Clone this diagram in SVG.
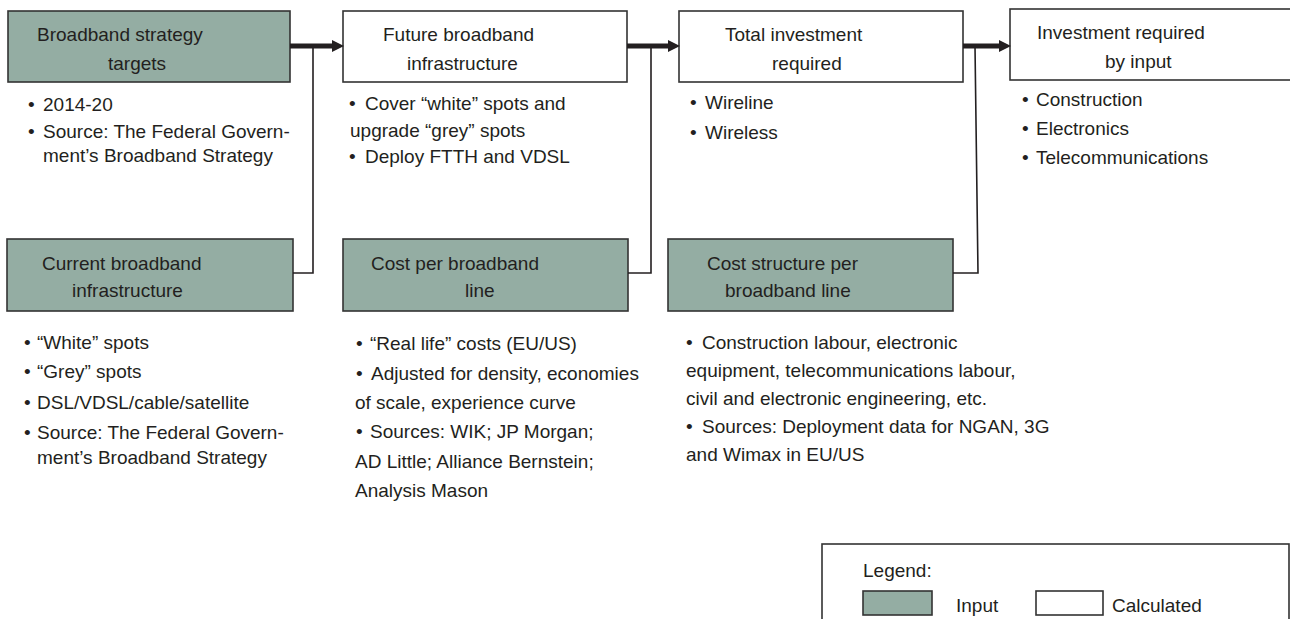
<svg xmlns="http://www.w3.org/2000/svg" width="1290" height="619" viewBox="0 0 1290 619">
<style>
text{font-family:"Liberation Sans",Arial,sans-serif;font-size:19px;fill:#231f20}
.in{fill:#94ada3;stroke:#333;stroke-width:1.6}
.calc{fill:#fff;stroke:#333;stroke-width:1.6}
.thin{fill:none;stroke:#231f20;stroke-width:1.6}
.thick{fill:none;stroke:#231f20;stroke-width:5}
</style>
<defs>
<marker id="ah" markerUnits="userSpaceOnUse" viewBox="0 0 12 12" refX="0" refY="6" markerWidth="12" markerHeight="12" orient="auto">
<path d="M0,0 L12,6 L0,12 z" fill="#231f20"/>
</marker>
</defs>
<rect width="1290" height="619" fill="#fff"/>

<g id="n-strategy">
<rect class="in" x="8" y="11" width="282" height="71"/>
<text x="37" y="41">Broadband strategy</text>
<text x="108" y="70">targets</text>
<text y="111"><tspan x="28">•</tspan><tspan x="43">2014-20</tspan></text>
<text y="138"><tspan x="28">•</tspan><tspan x="43">Source: The Federal Govern-</tspan></text>
<text x="43" y="162">ment’s Broadband Strategy</text>
</g>

<g id="n-future">
<rect class="calc" x="343" y="11" width="284" height="71"/>
<text x="383" y="41">Future broadband</text>
<text x="407" y="70">infrastructure</text>
<text y="110"><tspan x="349">•</tspan><tspan x="365">Cover “white” spots and</tspan></text>
<text x="350" y="137">upgrade “grey” spots</text>
<text y="163"><tspan x="349">•</tspan><tspan x="365">Deploy FTTH and VDSL</tspan></text>
</g>

<g id="n-total">
<rect class="calc" x="679" y="11" width="284" height="71"/>
<text x="725" y="41">Total investment</text>
<text x="772" y="70">required</text>
<text y="109"><tspan x="690">•</tspan><tspan x="705">Wireline</tspan></text>
<text y="139"><tspan x="690">•</tspan><tspan x="705">Wireless</tspan></text>
</g>

<g id="n-byinput">
<rect class="calc" x="1010" y="9" width="290" height="71"/>
<text x="1037" y="39">Investment required</text>
<text x="1105" y="68">by input</text>
<text y="106"><tspan x="1022">•</tspan><tspan x="1036">Construction</tspan></text>
<text y="135"><tspan x="1022">•</tspan><tspan x="1036">Electronics</tspan></text>
<text y="164"><tspan x="1022">•</tspan><tspan x="1036">Telecommunications</tspan></text>
</g>

<g id="n-current">
<rect class="in" x="7" y="239" width="286" height="72"/>
<text x="42" y="270">Current broadband</text>
<text x="72" y="297">infrastructure</text>
<text y="349"><tspan x="24">•</tspan><tspan x="37">“White” spots</tspan></text>
<text y="378"><tspan x="24">•</tspan><tspan x="37">“Grey” spots</tspan></text>
<text y="409"><tspan x="24">•</tspan><tspan x="37">DSL/VDSL/cable/satellite</tspan></text>
<text y="439"><tspan x="24">•</tspan><tspan x="37">Source: The Federal Govern-</tspan></text>
<text x="37" y="464">ment’s Broadband Strategy</text>
</g>

<g id="n-costline">
<rect class="in" x="343" y="239" width="285" height="72"/>
<text x="371" y="270">Cost per broadband</text>
<text x="465" y="297">line</text>
<text y="350"><tspan x="356">•</tspan><tspan x="370">“Real life” costs (EU/US)</tspan></text>
<text y="380"><tspan x="356">•</tspan><tspan x="371">Adjusted for density, economies</tspan></text>
<text x="355" y="409">of scale, experience curve</text>
<text y="438"><tspan x="356">•</tspan><tspan x="370">Sources: WIK; JP Morgan;</tspan></text>
<text x="355" y="468">AD Little; Alliance Bernstein;</text>
<text x="355" y="497">Analysis Mason</text>
</g>

<g id="n-coststructure">
<rect class="in" x="668" y="239" width="285" height="72"/>
<text x="707" y="270">Cost structure per</text>
<text x="725" y="297">broadband line</text>
<text y="349"><tspan x="686">•</tspan><tspan x="702">Construction labour, electronic</tspan></text>
<text x="686" y="377">equipment, telecommunications labour,</text>
<text x="686" y="405">civil and electronic engineering, etc.</text>
<text y="433"><tspan x="686">•</tspan><tspan x="702">Sources: Deployment data for NGAN, 3G</tspan></text>
<text x="686" y="461">and Wimax in EU/US</text>
</g>

<g id="legend">
<rect x="822" y="544" width="467" height="90" fill="#fff" stroke="#333" stroke-width="1.6"/>
<text x="863" y="577">Legend:</text>
<rect class="in" x="863" y="591" width="69" height="24"/>
<text x="956" y="612">Input</text>
<rect class="calc" x="1036" y="591" width="67" height="24"/>
<text x="1112" y="612">Calculated</text>
</g>

<g id="connectors">
<path class="thin" d="M293,273 H313 V46"/>
<path class="thin" d="M628,273 H651 V46"/>
<path class="thin" d="M953,273 H978 L975,46"/>
<path class="thick" d="M290,46 H332" marker-end="url(#ah)"/>
<path class="thick" d="M627,46 H668" marker-end="url(#ah)"/>
<path class="thick" d="M963,46 H999" marker-end="url(#ah)"/>
</g>
</svg>
